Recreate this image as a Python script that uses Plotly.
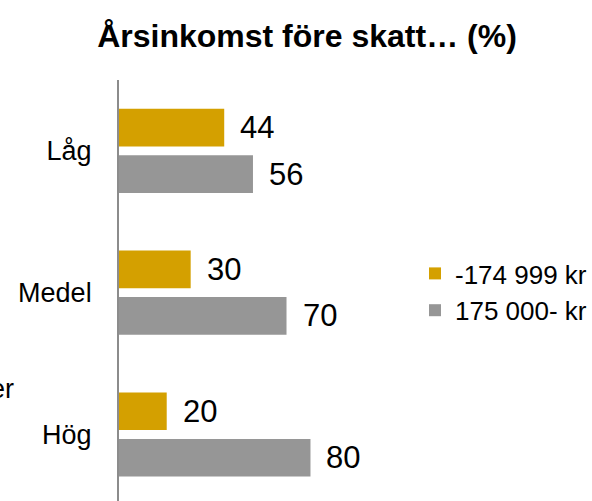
import plotly.graph_objects as go

categories = ["Hög", "Medel", "Låg"]
low_income = [20, 30, 44]      # -174 999 kr
high_income = [80, 70, 56]     # 175 000- kr
series_names = ["-174 999 kr", "175 000- kr"]
title_text = "Årsinkomst före skatt… (%)"

W, H = 592, 501
FONT = "Liberation Sans, Arial, sans-serif"
GOLD = "#D4A000"
GREY = "#969696"
BARGAP, GROUPGAP = 0.344, 0.19

fig = go.Figure()
fig.add_trace(go.Bar(y=categories, x=high_income, orientation="h", name=series_names[1],
                     marker=dict(color=GREY, line=dict(width=0))))
fig.add_trace(go.Bar(y=categories, x=low_income, orientation="h", name=series_names[0],
                     marker=dict(color=GOLD, line=dict(width=0))))

# value labels just right of each bar end, centred on the bar
slot = (1 - BARGAP) / 2
ann = []
for vals, shift in ((low_income, slot / 2), (high_income, -slot / 2)):
    for c, v in zip(categories, vals):
        ann.append(dict(x=v, y=categories.index(c) + shift, xref="x", yref="y",
                        text=str(v), showarrow=False, xanchor="left", yanchor="middle",
                        xshift=14, font=dict(size=31, color="#000000", family=FONT)))
ann.append(dict(x=16 / W, y=1 - 389 / H, xref="paper", yref="paper", text="er",
                showarrow=False, xanchor="right", yanchor="middle",
                font=dict(size=27, family=FONT, color="#000")))

fig.update_layout(
    width=W, height=H,
    margin=dict(l=0, r=0, t=0, b=0),
    paper_bgcolor="white", plot_bgcolor="white",
    barmode="group", bargap=BARGAP, bargroupgap=GROUPGAP,
    showlegend=True,
    legend=dict(x=416 / W, y=1 - 292 / H, xanchor="left", yanchor="middle",
                traceorder="reversed", font=dict(size=26, family=FONT, color="#000"),
                itemwidth=30, tracegroupgap=0),
    title=dict(text="<b>" + title_text + "</b>", x=307 / W, xanchor="center",
               y=1 - 36 / H, yanchor="middle",
               font=dict(size=32, family=FONT, color="#000")),
    xaxis=dict(domain=[119 / W, 359 / W], range=[0, 100], visible=False),
    yaxis=dict(domain=[0, 1 - 80 / H], range=[-0.469, 2.5], automargin=False,
               showline=True, linecolor="#8c8c8c", linewidth=1.5,
               showgrid=False, zeroline=False, ticks="", ticklabelstandoff=20,
               tickfont=dict(size=27, family=FONT, color="#000")),
    annotations=ann,
    font=dict(family=FONT),
)

fig.write_html("out.html")
